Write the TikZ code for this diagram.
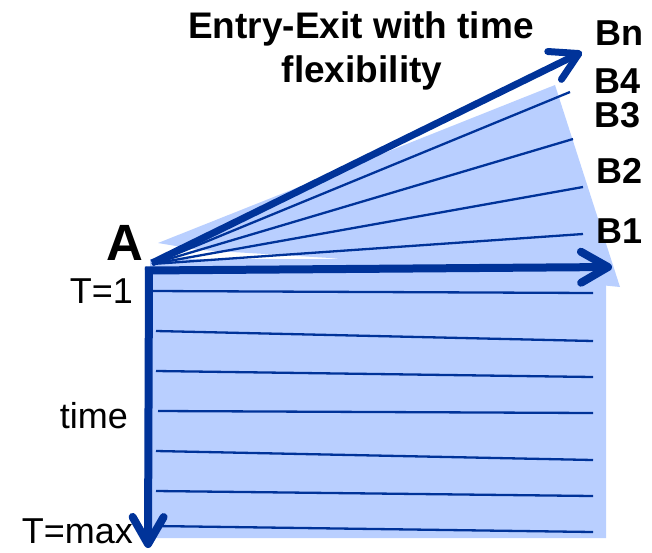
\documentclass[tikz,border=0pt]{standalone}
\usepackage{fontspec}
\setmainfont{Liberation Sans}
\usetikzlibrary{arrows.meta}
\definecolor{dblue}{RGB}{0,51,153}
\definecolor{lblue}{RGB}{185,207,255}
\tikzset{
  bigarrow/.style={draw=dblue, line width=8pt, line cap=butt,
    -{Straight Barb[length=27pt,width=31pt,line cap=round,line join=round]}},
  thinline/.style={draw=dblue, line width=2.3pt},
  blab/.style={font=\bfseries\fontsize{36}{40}\selectfont, inner sep=0pt, anchor=base west},
  rlab/.style={font=\fontsize{36}{40}\selectfont, inner sep=0pt, anchor=base east},
  ttl/.style={font=\bfseries\fontsize{37}{40}\selectfont, inner sep=0pt, anchor=base},
  area/.style={fill=lblue, draw=none}
}
\begin{document}
\begin{tikzpicture}[x=1pt,y=-1pt]
\useasboundingbox (0,0) rectangle (652,552);
% filled areas
\fill[area] (158,243) -- (555,85) -- (620,287) -- (330,258) -- (200,250) -- cycle;
\fill[area] (150,259) -- (606,259) -- (606,538) -- (152,538) -- cycle;
% coordinates
\coordinate (O) at (152,264);
\coordinate (f4) at (570,92);
\coordinate (f3) at (573,139);
\coordinate (f2) at (583,187);
\coordinate (f1) at (583,234);
\coordinate (bnend) at (582,52);
\coordinate (bnstart) at (152,263);
\coordinate (hstart) at (145,270.5);
\coordinate (hend) at (612,267);
\coordinate (vstart) at (149,267);
\coordinate (vend) at (148,548);
% fan lines
\foreach \f in {f4,f3,f2,f1} \draw[thinline] (O) -- (\f);
% time lines
\coordinate (l1a) at (152,291); \coordinate (l1b) at (593,293);
\coordinate (l2a) at (156,331); \coordinate (l2b) at (593,341);
\coordinate (l3a) at (156,371); \coordinate (l3b) at (593,377);
\coordinate (l4a) at (158,411); \coordinate (l4b) at (593,413);
\coordinate (l5a) at (156,451); \coordinate (l5b) at (593,460);
\coordinate (l6a) at (156,491); \coordinate (l6b) at (593,496);
\coordinate (l7a) at (156,526); \coordinate (l7b) at (593,532);
\foreach \i in {1,...,7} \draw[thinline] (l\i a) -- (l\i b);
% thick arrows
\draw[bigarrow, line width=7pt] (bnstart) -- (bnend);
\draw[bigarrow] (hstart) -- (hend);
\draw[bigarrow] (vstart) -- (vend);
% labels
\node[ttl] (title1) at (361,38) {Entry-Exit with time};
\node[ttl] (title2) at (362,82) {flexibility};
\node[blab] (bn) at (595,45) {Bn};
\node[blab] (b4) at (594,93) {B4};
\node[blab] (b3) at (594,127) {B3};
\node[blab] (b2) at (596,183) {B2};
\node[blab] (b1) at (596,243) {B1};
\node[blab, font=\bfseries\fontsize{51}{56}\selectfont] (A) at (106,260) {A};
\node[rlab] (t1) at (133,303) {T=1};
\node[rlab] (time) at (128,428) {time};
\node[rlab] (tmax) at (133,543) {T=max};
\end{tikzpicture}
\end{document}
